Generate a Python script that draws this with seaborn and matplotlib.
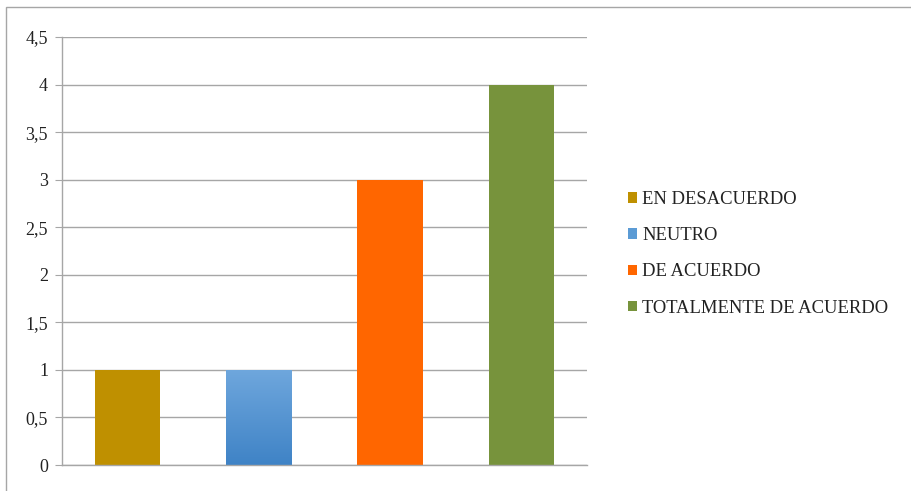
import numpy as np
import pandas as pd
import matplotlib
matplotlib.use("Agg")
import matplotlib.pyplot as plt
import seaborn as sns
from matplotlib.patches import Patch, Rectangle
from matplotlib.ticker import FuncFormatter

# data
categories = ["EN DESACUERDO", "NEUTRO", "DE ACUERDO", "TOTALMENTE DE ACUERDO"]
values = [1, 1, 3, 4]
colors = ["#BF9000", "#5B9BD5", "#FF6600", "#77933C"]

df = pd.DataFrame({"cat": categories, "val": values})

sns.set_style("white")
plt.rcParams["font.serif"] = ["Liberation Serif", "DejaVu Serif"]
plt.rcParams["font.family"] = ["serif"]

fig = plt.figure(figsize=(9.11, 4.91), dpi=100)
ax = fig.add_axes([62 / 911, 26 / 491, 525 / 911, 428 / 491])

sns.barplot(data=df, x="cat", y="val", hue="cat", palette=colors,
            width=0.5, legend=False, ax=ax, saturation=1, linewidth=0)

# gradient on the blue bar
bar = ax.patches[1]
x0, y0 = bar.get_x(), bar.get_y()
w, h = bar.get_width(), bar.get_height()
grad = np.linspace(0, 1, 256).reshape(-1, 1)
cmap = matplotlib.colors.LinearSegmentedColormap.from_list("b", ["#3F83C6", "#6FA7DD"])
im = ax.imshow(grad, extent=[x0, x0 + w, y0, y0 + h], origin="lower",
               cmap=cmap, aspect="auto", zorder=bar.get_zorder() + 0.1)
im.set_clip_path(bar)

ax.set_xlim(-0.5, 3.5)
ax.set_ylim(0, 4.5)
ax.set_yticks(np.arange(0, 4.51, 0.5))
ax.yaxis.set_major_formatter(FuncFormatter(lambda v, p: f"{v:g}".replace(".", ",")))
ax.set_xticks([])
ax.set_xlabel("")
ax.set_ylabel("")
ax.grid(axis="y", color="#A6A6A6", linewidth=1)
ax.set_axisbelow(True)
for s in ["top", "right"]:
    ax.spines[s].set_visible(False)
for s in ["left", "bottom"]:
    ax.spines[s].set_color("#A6A6A6")
    ax.spines[s].set_linewidth(1)
ax.tick_params(axis="y", left=True, length=5, color="#A6A6A6", labelsize=13, pad=5,
               labelcolor="#222222")

handles = [Patch(facecolor=c, edgecolor="none") for c in colors]
fig.legend(handles, categories, loc="upper left", bbox_to_anchor=(628 / 911, 1 - 191 / 491),
           frameon=False, fontsize=13.4, handlelength=0.48, handleheight=0.48,
           handletextpad=0.27, labelspacing=1.03, borderaxespad=0, borderpad=0,
           labelcolor="#222222")

# outer chart border
fig.patches.append(Rectangle((6 / 911, -0.05), 1.0, 1 - 7 / 491 + 0.05,
                             transform=fig.transFigure, fill=False,
                             edgecolor="#A6A6A6", linewidth=1))

fig.savefig("out.png", dpi=100)
